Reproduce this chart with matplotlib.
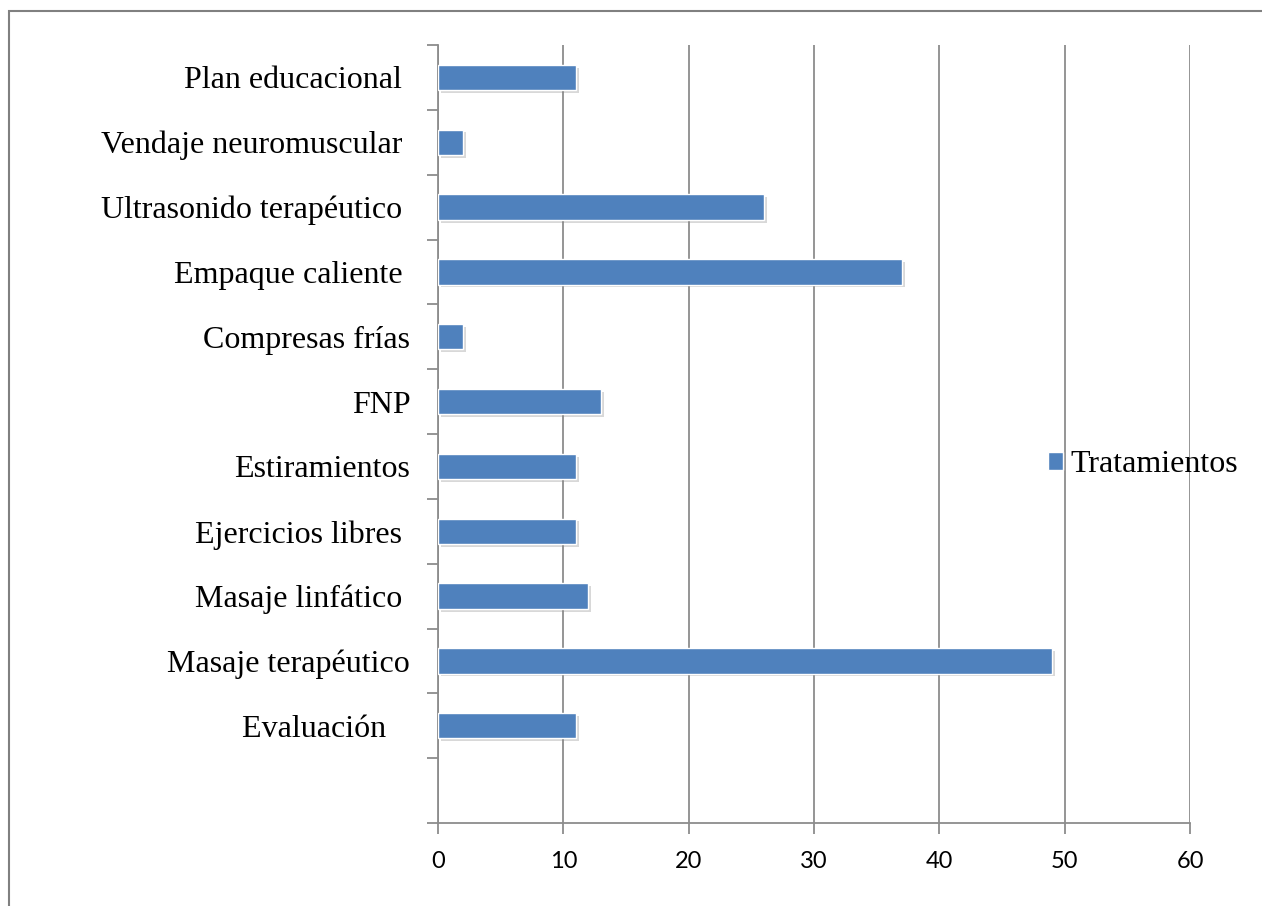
import numpy as np
import matplotlib
matplotlib.use("Agg")
from matplotlib import pyplot as plt
from matplotlib.patches import Patch, Rectangle
import matplotlib.patheffects as pe

# categories bottom -> top (first slot is empty in the original)
categorias = ["", "Evaluación   ", "Masaje terapéutico", "Masaje linfático ",
              "Ejercicios libres ", "Estiramientos", "FNP", "Compresas frías",
              "Empaque caliente ", "Ultrasonido terapéutico ",
              "Vendaje neuromuscular ", "Plan educacional "]
valores = [0, 11, 49, 12, 11, 11, 13, 2, 37, 26, 2, 11]
serie = "Tratamientos"
xticks = [0, 10, 20, 30, 40, 50, 60]

gris = "#8c8c8c"
azul = "#4f81bd"

fig = plt.figure(figsize=(12.62, 9.06), dpi=100)
ax = fig.add_axes([438/1262, 1 - 823/906, (1190-438)/1262, (823-45)/906])

y = np.arange(len(categorias))
bars = ax.barh(y[1:], valores[1:], height=0.39, color=azul, edgecolor="white",
               linewidth=1.0, zorder=3)
for b in bars:
    b.set_path_effects([pe.SimplePatchShadow(offset=(2, -2), alpha=0.3, shadow_rgbFace="gray"),
                        pe.Normal()])

ax.set_xlim(0, 60)
ax.set_ylim(-0.5, len(categorias) - 0.5)
ax.set_xticks(xticks)
ax.set_xticklabels([str(v) for v in xticks], family="Lato", fontsize=17)
ax.tick_params(axis="x", direction="out", length=8, width=1.3, color=gris, pad=12)

# category boundary ticks (major) and centred labels (minor)
ax.set_yticks(np.arange(-0.5, len(categorias), 1.0))
ax.set_yticklabels([])
ax.set_yticks(y, minor=True)
ax.set_yticklabels(categorias, minor=True, family="Liberation Serif", fontsize=23)
ax.tick_params(axis="y", which="major", direction="out", length=8, width=1.3, color=gris)
ax.tick_params(axis="y", which="minor", length=0, pad=20)

ax.grid(axis="x", color=gris, linewidth=1.3, zorder=0)
ax.set_axisbelow(True)
for s in ["top", "right"]:
    ax.spines[s].set_visible(False)
for s in ["left", "bottom"]:
    ax.spines[s].set_color(gris)
    ax.spines[s].set_linewidth(1.3)

leg = fig.legend(handles=[Patch(facecolor=azul, edgecolor="white")], labels=[serie],
                 loc="center left", bbox_to_anchor=(1019/1262, 1 - 465/906),
                 frameon=False, handlelength=0.47, handleheight=0.47, handletextpad=0.25,
                 prop={"family": "Liberation Serif", "size": 23})

# outer frame (runs off the right and bottom edges)
fig.patches.append(Rectangle((8.5/1262, -0.05), 1.1, 1.05 - 11.5/906, transform=fig.transFigure,
                             fill=False, edgecolor="#808080", linewidth=1.5))

fig.savefig("out.png", dpi=100)
